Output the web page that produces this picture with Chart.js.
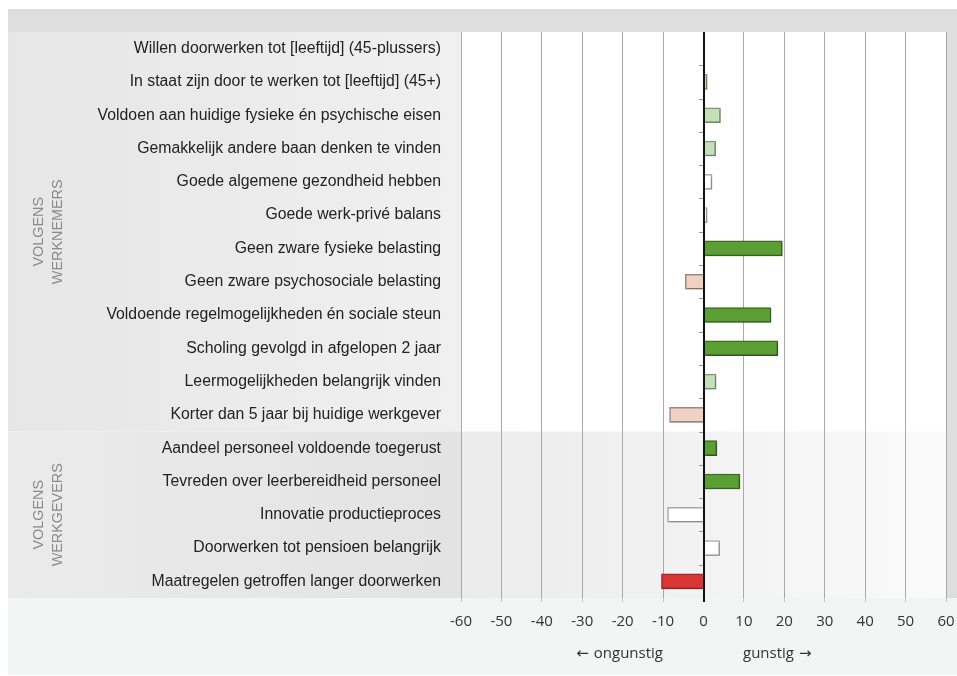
<!DOCTYPE html>
<html lang="nl">

<head>
    <meta charset="UTF-8" />
    <title>Doorwerken - factoren</title>
    <script src="https://cdn.jsdelivr.net/npm/chart.js@4/dist/chart.umd.min.js"></script>
    <style>
        body { margin: 0; background: #fff; }
        canvas { display: block; }
    </style>
</head>

<body>
    <canvas id="myChart" width="957" height="676"></canvas>

    <script>
        // categorieen (van boven naar beneden)
        var labels = [
            'Willen doorwerken tot [leeftijd] (45-plussers)',
            'In staat zijn door te werken tot [leeftijd] (45+)',
            'Voldoen aan huidige fysieke én psychische eisen',
            'Gemakkelijk andere baan denken te vinden',
            'Goede algemene gezondheid hebben',
            'Goede werk-privé balans',
            'Geen zware fysieke belasting',
            'Geen zware psychosociale belasting',
            'Voldoende regelmogelijkheden én sociale steun',
            'Scholing gevolgd in afgelopen 2 jaar',
            'Leermogelijkheden belangrijk vinden',
            'Korter dan 5 jaar bij huidige werkgever',
            'Aandeel personeel voldoende toegerust',
            'Tevreden over leerbereidheid personeel',
            'Innovatie productieproces',
            'Doorwerken tot pensioen belangrijk',
            'Maatregelen getroffen langer doorwerken'
        ];

        // effect (procentpunt)
        var waarden = [0, 0.9, 4.2, 3.0, 2.1, 0.9, 19.5, -4.5, 16.7, 18.4, 3.1, -8.4, 3.3, 9.0, -8.9, 4.0, -10.4];

        // soort effect per categorie
        var niveau = [
            'neutraal', 'gunstig', 'gunstig', 'gunstig', 'neutraal', 'neutraal',
            'sterkGunstig', 'ongunstig', 'sterkGunstig', 'sterkGunstig', 'gunstig', 'ongunstig',
            'sterkGunstig', 'sterkGunstig', 'neutraal', 'neutraal', 'sterkOngunstig'
        ];

        // groepen
        var groepen = [
            { naam: ['VOLGENS', 'WERKNEMERS'], van: 0, tot: 11 },
            { naam: ['VOLGENS', 'WERKGEVERS'], van: 12, tot: 16 }
        ];

        var xTicks = [-60, -50, -40, -30, -20, -10, 0, 10, 20, 30, 40, 50, 60];

        var vulKleur = {
            sterkGunstig: '#5b9e33', gunstig: '#c4dfb9', neutraal: '#ffffff',
            ongunstig: '#f2d1c5', sterkOngunstig: '#d93535'
        };
        var randKleur = {
            sterkGunstig: '#3c6c22', gunstig: '#7d9974', neutraal: '#a9a9a9',
            ongunstig: '#9c8781', sterkOngunstig: '#9a2b2b'
        };

        // achtergrondvlakken
        var achtergrond = {
            id: 'achtergrond',
            beforeDraw: function (chart) {
                var c = chart.ctx, a = chart.chartArea, y = chart.scales.y;
                var half = (y.getPixelForValue(1) - y.getPixelForValue(0)) / 2;
                var split = y.getPixelForValue(groepen[1].van) - half;
                c.save();
                c.fillStyle = '#dedede';
                c.fillRect(8, 9, 949, a.top - 9);
                c.fillRect(a.right, 9, 957 - a.right, a.bottom - 9);

                var g1 = c.createLinearGradient(8, 0, a.left, 0);
                g1.addColorStop(0, '#e6e6e6');
                g1.addColorStop(1, '#f0f0f0');
                c.fillStyle = g1;
                c.fillRect(8, a.top, a.left - 8, split - a.top);

                var g2 = c.createLinearGradient(8, 0, a.left, 0);
                g2.addColorStop(0, '#ebebeb');
                g2.addColorStop(1, '#e3e3e3');
                c.fillStyle = g2;
                c.fillRect(8, split, a.left - 8, a.bottom - split);

                c.fillStyle = '#ffffff';
                c.fillRect(a.left, a.top, a.right - a.left, split - a.top);

                var g3 = c.createLinearGradient(a.left, 0, a.right, 0);
                g3.addColorStop(0, '#ebebeb');
                g3.addColorStop(1, '#fafafa');
                c.fillStyle = g3;
                c.fillRect(a.left, split, a.right - a.left, a.bottom - split);

                c.fillStyle = '#f3f4f4';
                c.fillRect(8, a.bottom, 949, 675 - a.bottom);
                c.restore();
            }
        };

        // nullijn, streepjes, groepsnamen, asteksten
        var extra = {
            id: 'extra',
            beforeDatasetsDraw: function (chart) {
                chart.ctx.save();
                chart.ctx.shadowColor = 'rgba(0,0,0,0.18)';
                chart.ctx.shadowOffsetX = 1;
                chart.ctx.shadowOffsetY = 1;
                chart.ctx.shadowBlur = 1;
            },
            afterDatasetsDraw: function (chart) {
                var c = chart.ctx, a = chart.chartArea, x = chart.scales.x, y = chart.scales.y;
                c.restore();
                var x0 = Math.round(x.getPixelForValue(0));
                var half = (y.getPixelForValue(1) - y.getPixelForValue(0)) / 2;
                c.save();
                c.strokeStyle = '#999';
                c.lineWidth = 1;
                for (var i = 0; i < labels.length - 1; i++) {
                    var yy = Math.round(y.getPixelForValue(i) + half) + 0.5;
                    c.beginPath();
                    c.moveTo(x0 - 5, yy);
                    c.lineTo(x0, yy);
                    c.stroke();
                }
                c.strokeStyle = '#111';
                c.lineWidth = 2;
                c.beginPath();
                c.moveTo(x0, a.top);
                c.lineTo(x0, a.bottom + 4);
                c.stroke();

                c.fillStyle = '#8a8a8a';
                c.font = '14.4px "Liberation Sans", Arial, sans-serif';
                c.textAlign = 'center';
                c.textBaseline = 'middle';
                groepen.forEach(function (g) {
                    var yc = (y.getPixelForValue(g.van) + y.getPixelForValue(g.tot)) / 2;
                    c.save();
                    c.translate(48.5, yc);
                    c.rotate(-Math.PI / 2);
                    c.fillText(g.naam[0], 0, -9.5);
                    c.fillText(g.naam[1], 0, 9.5);
                    c.restore();
                });

                c.fillStyle = '#333';
                var yt = 654;
                c.textAlign = 'right';
                c.font = '15px "Open Sans", sans-serif';
                c.fillText('ongunstig', x0 - 41, yt);
                var w1 = c.measureText('ongunstig').width;
                c.font = '15px "DejaVu Sans", sans-serif';
                c.fillText('←', x0 - 46 - w1, yt);
                c.textAlign = 'left';
                c.font = '15px "Open Sans", sans-serif';
                c.fillText('gunstig', x0 + 39, yt);
                var w2 = c.measureText('gunstig').width;
                c.font = '15px "DejaVu Sans", sans-serif';
                c.fillText('→', x0 + 44 + w2, yt);
                c.restore();
            }
        };

        var ctx = document.getElementById('myChart').getContext('2d');
        var myChart = new Chart(ctx, {
            type: 'bar',
            data: {
                labels: labels,
                datasets: [{
                    data: waarden,
                    backgroundColor: niveau.map(function (n) { return vulKleur[n]; }),
                    borderColor: niveau.map(function (n) { return randKleur[n]; }),
                    borderWidth: 1.5,
                    borderSkipped: 'start',
                    barThickness: 15
                }]
            },
            options: {
                indexAxis: 'y',
                responsive: false,
                animation: false,
                layout: { padding: { top: 32, right: 11, left: 8, bottom: 0 } },
                plugins: {
                    legend: { display: false },
                    tooltip: { enabled: false }
                },
                scales: {
                    x: {
                        min: -60,
                        max: 60,
                        afterBuildTicks: function (s) {
                            s.ticks = xTicks.map(function (v) { return { value: v }; });
                        },
                        afterFit: function (s) {
                            s.height = 78;
                            s.paddingLeft = 0;
                            s.paddingRight = 0;
                        },
                        border: { display: false },
                        grid: {
                            color: function (c) { return c.tick && c.tick.value === 0 ? '#111' : '#a9a9a9'; },
                            tickColor: '#c8c8c8',
                            tickLength: 4
                        },
                        ticks: {
                            color: '#333',
                            padding: 11,
                            font: { family: '"Open Sans", sans-serif', size: 15 }
                        }
                    },
                    y: {
                        afterFit: function (s) {
                            s.width = 453;
                            s.paddingTop = 0;
                            s.paddingBottom = 0;
                        },
                        border: { display: false },
                        grid: { display: false, drawTicks: false },
                        ticks: {
                            color: '#222',
                            padding: 20,
                            font: { family: '"Liberation Sans", Arial, sans-serif', size: 15.8 }
                        }
                    }
                }
            },
            plugins: [achtergrond, extra]
        });
    </script>
</body>

</html>
